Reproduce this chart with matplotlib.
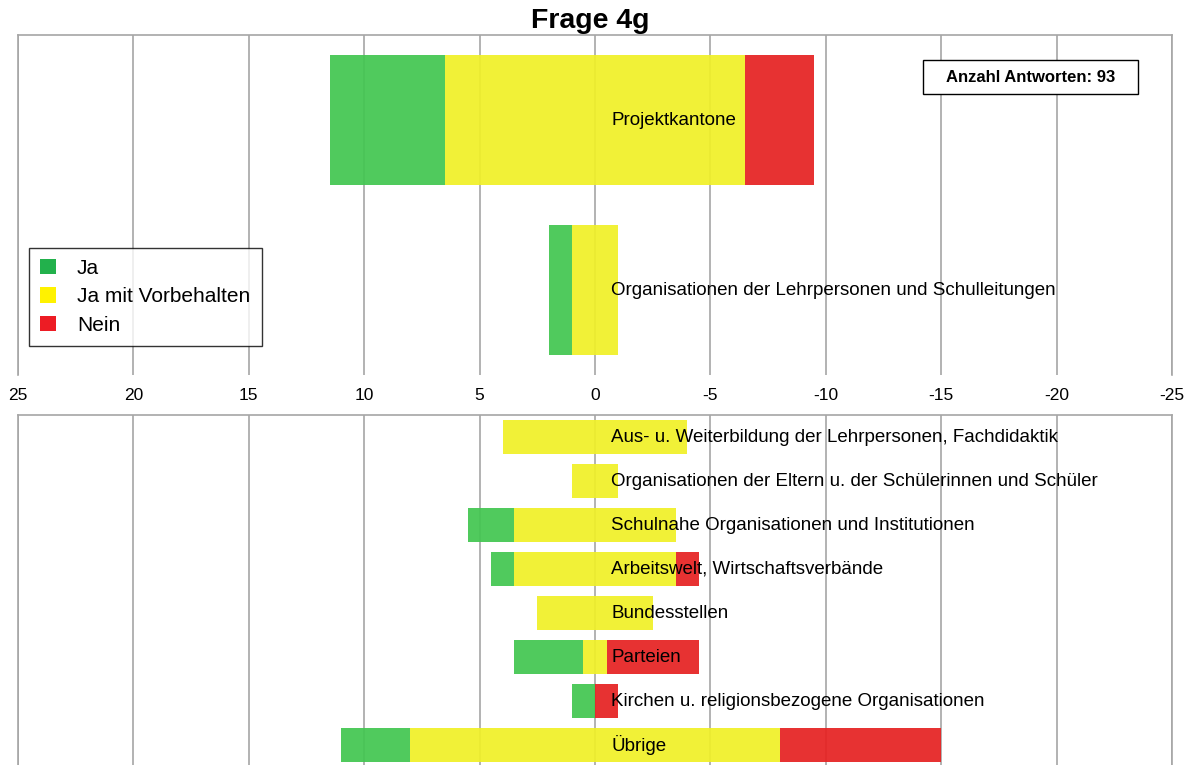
"""
Frage 4g: diverging stacked bars (Ja / Ja mit Vorbehalten / Nein)
"""
import numpy as np
import matplotlib

matplotlib.use("Agg")
import matplotlib.pyplot as plt  # noqa:E402
from matplotlib.patches import Patch, Rectangle  # noqa:E402

plt.rcParams["font.family"] = ["Liberation Sans", "DejaVu Sans"]

# data
top_groups = ["Projektkantone", "Organisationen der Lehrpersonen und Schulleitungen"]
top_ja = [5, 1]
top_vorb = [13, 2]
top_nein = [3, 0]

bottom_groups = [
    "Aus- u. Weiterbildung der Lehrpersonen, Fachdidaktik",
    "Organisationen der Eltern u. der Schülerinnen und Schüler",
    "Schulnahe Organisationen und Institutionen",
    "Arbeitswelt, Wirtschaftsverbände",
    "Bundesstellen",
    "Parteien",
    "Kirchen u. religionsbezogene Organisationen",
    "Übrige",
]
bottom_ja = [0, 0, 2, 1, 0, 3, 1, 3]
bottom_vorb = [8, 2, 7, 7, 5, 1, 0, 16]
bottom_nein = [0, 0, 0, 1, 0, 4, 1, 7]

n_answers = 93
x_ticks = [25, 20, 15, 10, 5, 0, -5, -10, -15, -20, -25]

GREEN = "#43c651"
YELLOW = "#f0f028"
RED = "#e62222"
GRID = "#a6a6a6"
LABEL_SIZE = 13.5


def draw_panel(ax, groups, ja, vorb, nein, height):
    ja = np.array(ja, dtype=float)
    vorb = np.array(vorb, dtype=float)
    nein = np.array(nein, dtype=float)
    y = np.arange(len(groups))

    for xv in x_ticks:
        ax.axvline(xv, color=GRID, linewidth=1.2, zorder=0)

    half = vorb / 2.0
    # axis is inverted: positive values go left
    ax.barh(y, vorb, left=-half, height=height, color=YELLOW, alpha=0.93, zorder=2)
    ax.barh(y, ja, left=half, height=height, color=GREEN, alpha=0.93, zorder=2)
    ax.barh(y, -nein, left=-half, height=height, color=RED, alpha=0.93, zorder=2)

    for yi, name in zip(y, groups):
        ax.text(-0.7, yi, name, ha="left", va="center", fontsize=LABEL_SIZE, zorder=3)

    ax.set_xlim(25, -25)
    ax.set_yticks([])
    for side in ["top", "left", "right", "bottom"]:
        ax.spines[side].set_color(GRID)
        ax.spines[side].set_linewidth(1.2)


def main():
    fig = plt.figure(figsize=(11.88, 7.65), dpi=100)
    ax_top = fig.add_axes([0.0152, 0.5098, 0.9713, 0.4444])
    ax_bot = fig.add_axes([0.0152, 0.0, 0.9713, 0.4575])

    draw_panel(ax_top, top_groups, top_ja, top_vorb, top_nein, 0.765)
    ax_top.set_ylim(1.5, -0.5)
    ax_top.spines["bottom"].set_visible(False)
    ax_top.set_xticks(x_ticks)
    ax_top.set_xticklabels([str(v) for v in x_ticks], fontsize=12.5)
    ax_top.tick_params(axis="x", length=0, pad=9)

    draw_panel(ax_bot, bottom_groups, bottom_ja, bottom_vorb, bottom_nein, 0.77)
    ax_bot.set_ylim(7.45, -0.5)
    ax_bot.spines["bottom"].set_visible(False)
    ax_bot.set_xticks([])

    fig.text(0.497, 0.972, "Frage 4g", ha="center", va="center",
             fontsize=20.5, fontweight="bold")

    # answer count box
    ax_top.add_patch(Rectangle((0.7842, 0.8265), 0.1863, 0.100,
                               transform=ax_top.transAxes, facecolor="white",
                               edgecolor="black", linewidth=1, zorder=4))
    ax_top.text(0.8774, 0.8765, f"Anzahl Antworten: {n_answers}",
                transform=ax_top.transAxes, ha="center", va="center",
                fontsize=12, fontweight="bold", zorder=5)

    handles = [
        Patch(facecolor="#22b14c", label="Ja"),
        Patch(facecolor="#fff200", label="Ja mit Vorbehalten"),
        Patch(facecolor="#ed1c24", label="Nein"),
    ]
    leg = ax_top.legend(handles=handles, loc="upper left",
                        bbox_to_anchor=(0.0095, 0.375), fontsize=15,
                        frameon=True, fancybox=False, handlelength=0.75,
                        handleheight=0.75, handletextpad=1.0, labelspacing=0.45,
                        borderpad=0.55, borderaxespad=0)
    leg.get_frame().set_edgecolor("black")
    leg.get_frame().set_linewidth(1)
    leg.set_zorder(6)

    fig.savefig("out.png", dpi=100)
    plt.close(fig)


if __name__ == "__main__":
    main()
